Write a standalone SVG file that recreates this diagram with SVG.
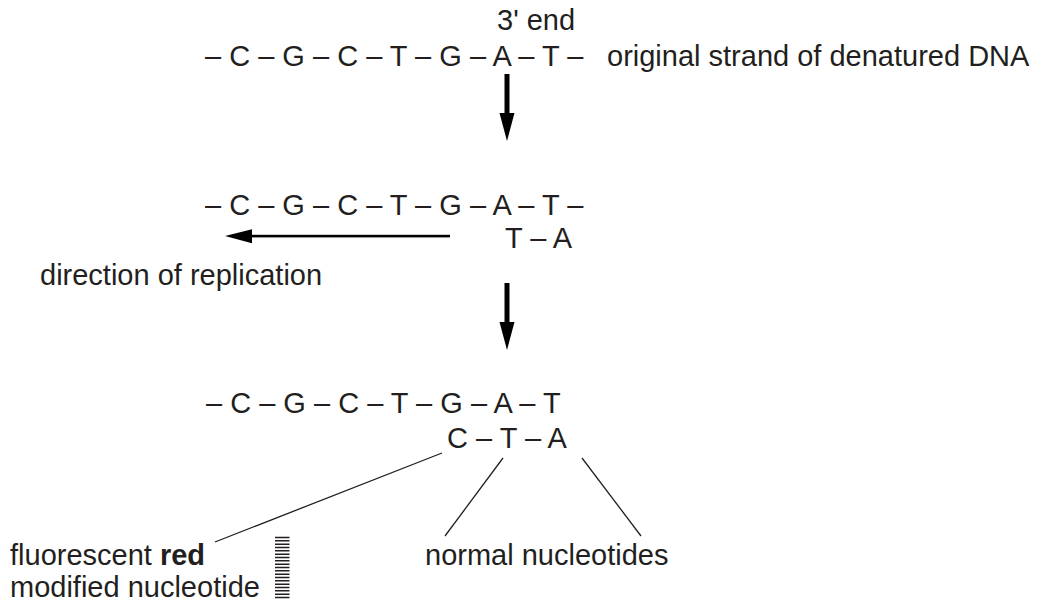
<svg xmlns="http://www.w3.org/2000/svg" width="1037" height="603" viewBox="0 0 1037 603">
<style>
text{font-family:"Liberation Sans",Arial,sans-serif;font-size:29px;fill:#231f20}
.thin{stroke:#231f20;stroke-width:1.3;fill:none}
.thick{fill:#000}
.stripe{stroke:#231f20;stroke-width:1.4}
</style>
<rect width="1037" height="603" fill="#fff"/>
<g id="strand1">
<text x="497" y="30">3' end</text>
<text x="205" y="66">– C – G – C – T – G – A – T –</text>
<text x="607" y="66">original strand of denatured DNA</text>
</g>
<g id="strand2">
<text x="205" y="215">– C – G – C – T – G – A – T –</text>
<text x="505" y="248">T – A</text>
<text x="40" y="285">direction of replication</text>
</g>
<g id="strand3">
<text x="206" y="413">– C – G – C – T – G – A – T</text>
<text x="447" y="448">C – T – A</text>
</g>
<g id="label-red">
<text x="10" y="565">fluorescent <tspan font-weight="bold">red</tspan></text>
<text x="10" y="597">modified nucleotide</text>
<path class="stripe" d="M275 537.5H289.5M275 540.8H289.5M275 544.2H289.5M275 547.5H289.5M275 550.8H289.5M275 554.2H289.5M275 557.5H289.5M275 560.8H289.5M275 564.2H289.5M275 567.5H289.5M275 570.8H289.5M275 574.2H289.5M275 577.5H289.5M275 580.8H289.5M275 584.2H289.5M275 587.5H289.5M275 590.8H289.5M275 594.2H289.5M275 597.5H289.5"/>
</g>
<g id="label-normal">
<text x="425" y="565">normal nucleotides</text>
</g>
<g id="connectors">
<rect class="thick" x="504.5" y="74" width="5" height="40"/>
<polygon class="thick" points="499.5,113 514.5,113 507,141"/>
<rect class="thick" x="504.5" y="283" width="5" height="40"/>
<polygon class="thick" points="499.5,322 514.5,322 507,350"/>
<rect class="thick" x="250" y="234.8" width="200" height="2.6"/>
<polygon class="thick" points="252,229.3 252,243.3 225,236.1"/>
<line class="thin" x1="442" y1="453" x2="215" y2="542"/>
<line class="thin" x1="503" y1="458" x2="445" y2="536"/>
<line class="thin" x1="582" y1="458" x2="641" y2="536"/>
</g>
</svg>
